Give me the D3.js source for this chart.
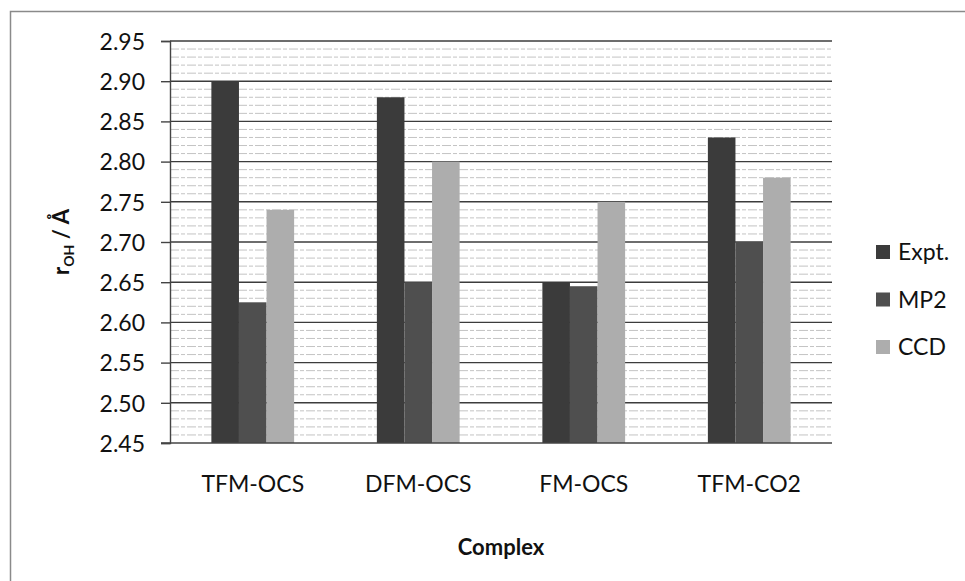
<!DOCTYPE html>
<html>
<head>
<meta charset="utf-8">
<script src="https://cdn.jsdelivr.net/npm/d3@7"></script>
<style>
  body { margin: 0; background: #fff; }
  text { font-family: Lato, "Open Sans", sans-serif; fill: #111; }
</style>
</head>
<body>
<script>
// data
var categories = ["TFM-OCS", "DFM-OCS", "FM-OCS", "TFM-CO2"];
var seriesNames = ["Expt.", "MP2", "CCD"];
var expt = [2.90, 2.88, 2.65, 2.83];
var mp2 = [2.625, 2.65, 2.645, 2.70];
var ccd = [2.74, 2.80, 2.75, 2.78];
var yTicks = [2.45, 2.50, 2.55, 2.60, 2.65, 2.70, 2.75, 2.80, 2.85, 2.90, 2.95];
var colors = ["#3b3b3b", "#4f4f4f", "#adadad"];

var seriesValues = [expt, mp2, ccd];

var svgW = 965, svgH = 581;
var margin = {top: 41, left: 170, right: 133, bottom: 138};
var width = svgW - margin.left - margin.right,
    height = svgH - margin.top - margin.bottom;

var svg = d3.select("body").append("svg")
    .attr("width", svgW)
    .attr("height", svgH);

// outer frame of the chart (right / bottom edges fall outside the picture)
svg.append("rect")
    .attr("x", 10.5).attr("y", 11.5)
    .attr("width", 1000).attr("height", 1000)
    .attr("fill", "none")
    .attr("stroke", "#8a8a8a")
    .attr("stroke-width", 1.5);

var g = svg.append("g")
    .attr("transform", "translate(" + margin.left + "," + margin.top + ")");

var x0 = d3.scaleBand()
    .domain(categories)
    .range([0, width])
    .paddingInner(0.5)
    .paddingOuter(0.25);

var x1 = d3.scaleBand()
    .domain(seriesNames)
    .range([0, x0.bandwidth()]);

var y = d3.scaleLinear()
    .domain([2.45, 2.95])
    .range([height, 0]);

// minor gridlines every 0.01
var minor = d3.range(246, 296).map(function(d) { return d / 100; })
    .filter(function(d) { return Math.round(d * 100) % 5 !== 0; });
g.selectAll(".minor")
    .data(minor)
  .enter().append("line")
    .attr("x1", 0).attr("x2", width)
    .attr("y1", function(d) { return y(d); })
    .attr("y2", function(d) { return y(d); })
    .attr("stroke", "#b4b4b4")
    .attr("stroke-width", 0.8)
    .attr("stroke-dasharray", "9,2,4,2");

// major gridlines
g.selectAll(".major")
    .data(yTicks.slice(1))
  .enter().append("line")
    .attr("x1", 0).attr("x2", width)
    .attr("y1", function(d) { return y(d); })
    .attr("y2", function(d) { return y(d); })
    .attr("stroke", "#3c3c3c")
    .attr("stroke-width", 1.4);

// bars
var rows = categories.map(function(c, i) {
    return seriesNames.map(function(s, j) {
        return {cat: c, series: s, value: seriesValues[j][i], color: colors[j]};
    });
});

g.selectAll(".group")
    .data(rows)
  .enter().append("g")
    .attr("transform", function(d, i) { return "translate(" + x0(categories[i]) + ",0)"; })
  .selectAll("rect")
    .data(function(d) { return d; })
  .enter().append("rect")
    .attr("x", function(d) { return x1(d.series); })
    .attr("width", x1.bandwidth())
    .attr("y", function(d) { return y(d.value); })
    .attr("height", function(d) { return height - y(d.value); })
    .attr("fill", function(d) { return d.color; });

// y axis
var yAxis = d3.axisLeft(y)
    .tickValues(yTicks)
    .tickFormat(d3.format(".2f"))
    .tickSize(9)
    .tickPadding(16);
var ya = g.append("g").call(yAxis);
ya.select(".domain").attr("stroke", "#444").attr("stroke-width", 1.4);
ya.selectAll(".tick line").attr("stroke", "#444").attr("stroke-width", 1.4);
ya.selectAll(".tick text")
    .style("font-size", "23px")
    .attr("dy", "0.36em");

// x axis
var xAxis = d3.axisBottom(x0).tickSize(0).tickPadding(33);
var xa = g.append("g")
    .attr("transform", "translate(0," + height + ")")
    .call(xAxis);
xa.select(".domain").attr("d", "M-9,0H" + width).attr("stroke", "#444").attr("stroke-width", 1.4);
xa.selectAll(".tick text").style("font-size", "23px");

// axis titles
svg.append("text")
    .attr("x", margin.left + width / 2)
    .attr("y", 555)
    .attr("text-anchor", "middle")
    .style("font-size", "22px")
    .style("font-weight", "bold")
    .text("Complex");

var yt = svg.append("text")
    .attr("transform", "translate(69," + (margin.top + height / 2) + ") rotate(-90)")
    .attr("text-anchor", "middle")
    .style("font-size", "22px")
    .style("font-weight", "bold");
yt.append("tspan").text("r");
yt.append("tspan").attr("dy", 5).style("font-size", "14px").text("OH");
yt.append("tspan").attr("dy", -5).text(" / Å");

// legend
var legend = svg.append("g").attr("transform", "translate(876,252)");
var li = legend.selectAll(".item")
    .data(seriesNames)
  .enter().append("g")
    .attr("transform", function(d, i) { return "translate(0," + i * 47.5 + ")"; });
li.append("rect")
    .attr("x", 0).attr("y", -7)
    .attr("width", 14).attr("height", 14)
    .attr("fill", function(d, i) { return colors[i]; });
li.append("text")
    .attr("x", 22)
    .attr("dy", "0.36em")
    .style("font-size", "23px")
    .text(function(d) { return d; });
</script>
</body>
</html>
